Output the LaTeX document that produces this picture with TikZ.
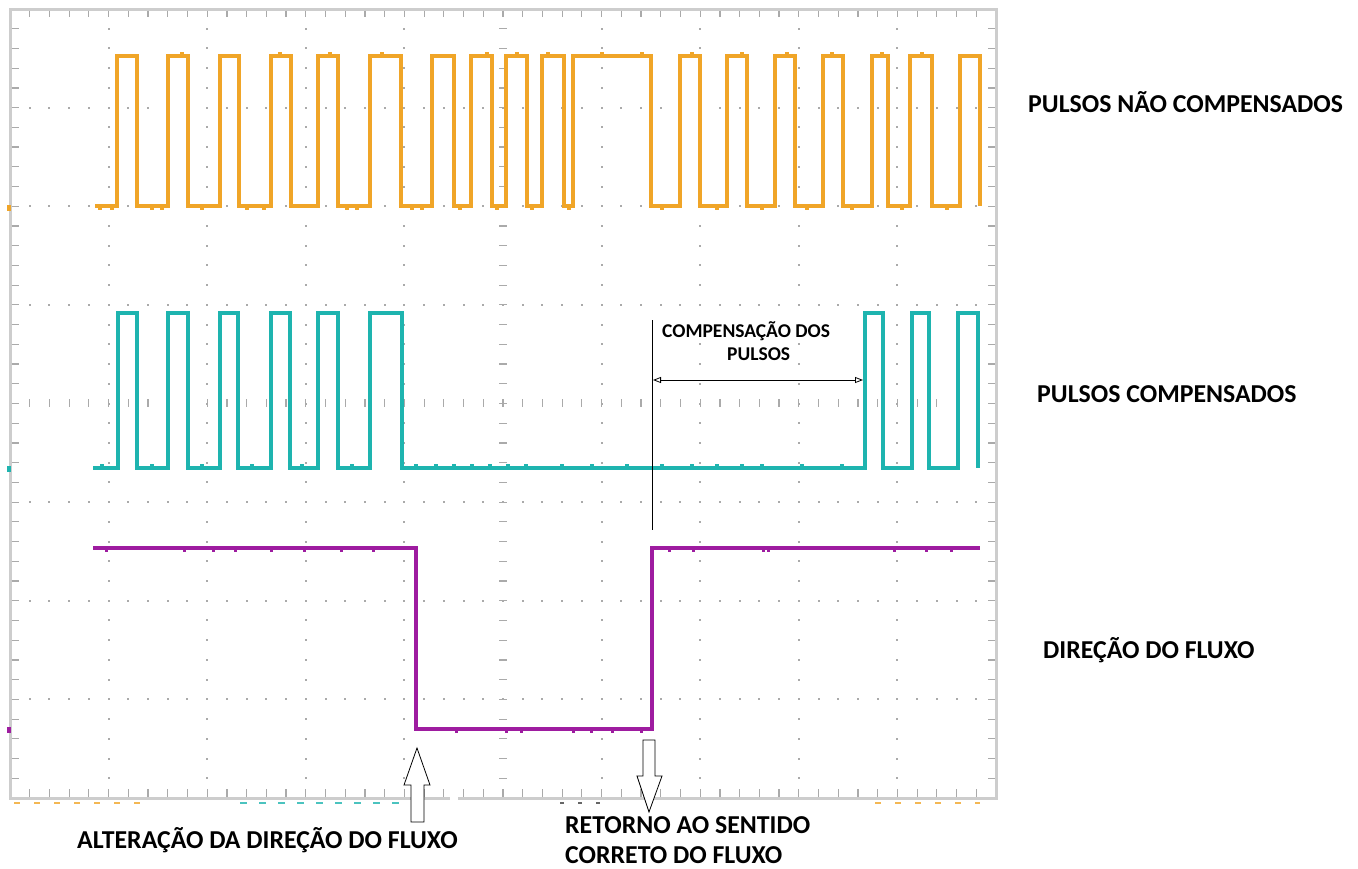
\documentclass[tikz,border=0pt]{standalone}
\usepackage{fontspec}
\setmainfont{Carlito}
\usetikzlibrary{arrows.meta}
\definecolor{orng}{RGB}{240,165,40}
\definecolor{tealc}{RGB}{30,180,175}
\definecolor{purp}{RGB}{158,28,160}
\definecolor{framec}{RGB}{205,205,205}
\definecolor{dotc}{RGB}{170,170,170}
\begin{document}
\begin{tikzpicture}[x=1pt,y=-1pt,
  trace/.style={line width=4.5pt, line join=miter},
  lbl/.style={font=\fontsize{25.8}{30}\selectfont\bfseries, inner sep=0pt, anchor=base west},
  smalllbl/.style={font=\fontsize{19.5}{23}\selectfont\bfseries, inner sep=0pt, anchor=base west},
  blockarrow/.style={draw=black, fill=white, line width=0.8pt},
  tickc/.style={dotc, line width=1.2pt}]
\useasboundingbox (0,0) rectangle (1358,868);
\fill[white] (0,0) rectangle (1358,868);
% grid dots
\foreach \i in {1,2,3,4,6,7,8,9} {
  \foreach \j in {1,...,39} {
    \fill[dotc] ({10+98.6*\i-1},{9+19.725*\j-1}) rectangle +(2,2);
  }
}
\foreach \j in {1,2,3,5,6,7} {
  \foreach \i in {1,...,49} {
    \fill[dotc] ({10+19.72*\i-1},{9+98.6*\j-1}) rectangle +(2,2);
  }
}
% centre axes
\foreach \j in {1,...,39} { \draw[tickc] (499,{9+19.725*\j}) -- (507,{9+19.725*\j}); }
\foreach \i in {1,...,49} { \draw[tickc] ({10+19.72*\i},399.4) -- ({10+19.72*\i},407.4); }
% frame
\draw[framec, line width=3pt] (10,9) rectangle (996,798);
\foreach \i in {1,...,49} {
  \draw[tickc] ({10+19.72*\i},10.5) -- +(0,6);
  \draw[tickc] ({10+19.72*\i},796.5) -- +(0,-8);
}
\foreach \j in {1,...,39} {
  \draw[tickc] (11.5,{9+19.725*\j}) -- +(7,0);
  \draw[tickc] (994.5,{9+19.725*\j}) -- +(-7,0);
}
\fill[white] (450,792) rectangle (458,802);
% channel markers
\fill[orng] (7,205) rectangle (11,211);
\fill[tealc] (7,466) rectangle (11,472);
\fill[purp] (7,727) rectangle (11,733);
% cut-off readouts under the screen
\draw[orng!80, line width=2.5pt, dash pattern=on 6pt off 14pt] (14,803) -- (150,803);
\draw[tealc!80, line width=2.5pt, dash pattern=on 7pt off 12pt] (240,803) -- (415,803);
\draw[black!60, line width=2pt, dash pattern=on 4pt off 14pt] (560,803) -- (610,803);
\draw[orng!80, line width=2.5pt, dash pattern=on 6pt off 14pt] (875,803) -- (980,803);
% traces
\draw[trace, orng] (95,206)
  \foreach \r/\f in {117/137,168/188,220/239,271/291,318/338,370/401,432/454,471/492,506/527,542/564,573/651,680/700,727/747,775/795,823/843,872/888,910/932,960/980}
  { -- (\r,206) -- (\r,56) -- (\f,56) -- (\f,206) };
\draw[trace, tealc] (93,468)
  \foreach \r/\f in {118/137,168/188,220/238,271/290,318/338,370/402,865/883,912/929,958/978}
  { -- (\r,468) -- (\r,313) -- (\f,313) -- (\f,468) };
\draw[trace, purp] (93,548) -- (416,548) -- (416,729) -- (652,729) -- (652,548) -- (980,548);
% trace noise
\foreach \x in {98,110,150,160,200,245,262,345,355,410,420,458,495,530,567,660,715,760,805,850,900,945} { \fill[orng] (\x,206) rectangle +(4,4); }
\foreach \x in {180,278,328,380,485,515,546,600,640,690,740,785,830,880,920} { \fill[orng] (\x,56) rectangle +(4,-4); }
\foreach \x in {100,150,200,250,300,350,414,434,452,470,488,506,524,560,590,625,660,690,715,740,760,800,840} { \fill[tealc] (\x,468) rectangle +(4,-4); }
\foreach \x in {105,183,212,234,270,303,340,372,668,692,762,767,893,925,950} { \fill[purp] (\x,548) rectangle +(3,4); }
\foreach \x in {455,505,520,572,590,611,640} { \fill[purp] (\x,729) rectangle +(3,4); }
% compensation marker
\coordinate (vtop) at (652,320);
\coordinate (vbot) at (652,530);
\coordinate (aL) at (653,380);
\coordinate (aR) at (863,380);
\draw[black, line width=0.8pt] (vtop) -- (vbot);
\draw[{Triangle[open,length=8pt,width=6pt]}-{Triangle[open,length=8pt,width=6pt]}, line width=0.8pt] (aL) -- (aR);
% labels
\node[lbl] (l1) at (1028,112) {PULSOS NÃO COMPENSADOS};
\node[lbl] (l2) at (1037,402) {PULSOS COMPENSADOS};
\node[lbl] (l3) at (1043,658) {DIREÇÃO DO FLUXO};
\node[lbl] (l4) at (77,848) {ALTERAÇÃO DA DIREÇÃO DO FLUXO};
\node[lbl] (l5) at (565,833) {RETORNO AO SENTIDO};
\node[lbl] (l6) at (565,863) {CORRETO DO FLUXO};
\node[smalllbl] (c1) at (662,337) {COMPENSAÇÃO DOS};
\node[smalllbl] (c2) at (727,360) {PULSOS};
% block arrows
\draw[blockarrow] (417,748) -- (430,785) -- (424,785) -- (424,822) -- (411,822) -- (411,785) -- (404,785) -- cycle;
\draw[blockarrow] (643,740) -- (655,740) -- (655,776) -- (662,776) -- (649,812) -- (637,776) -- (643,776) -- cycle;
\end{tikzpicture}
\end{document}
